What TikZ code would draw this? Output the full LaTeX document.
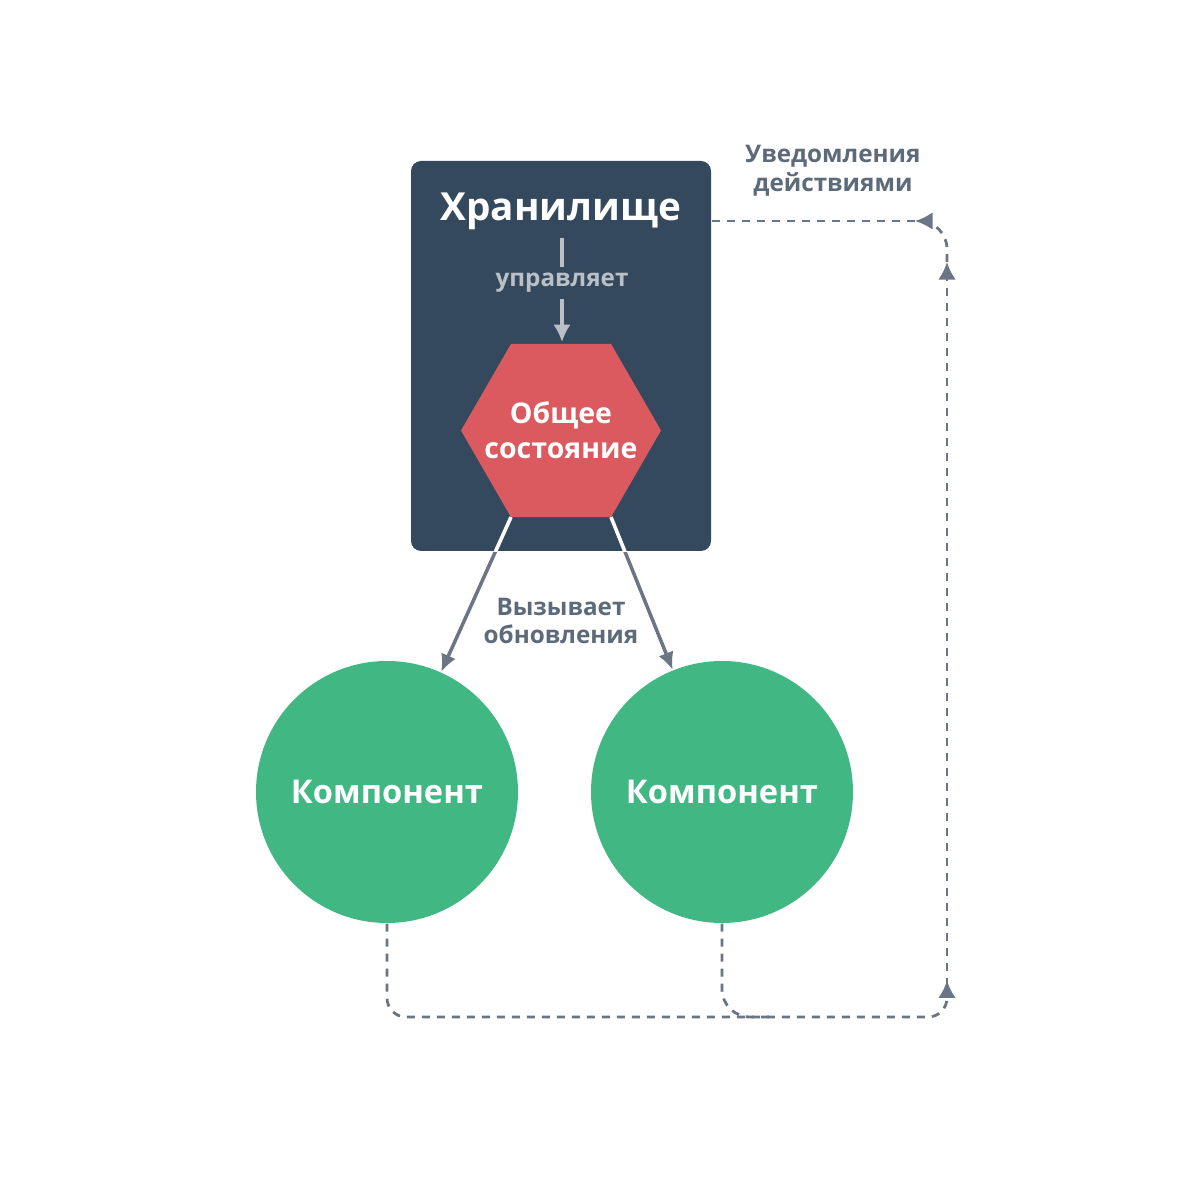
\documentclass[tikz,border=0pt]{standalone}
\usepackage{fontspec}
\setmainfont{Open Sans}
\usetikzlibrary{arrows.meta}
\definecolor{vuedark}{HTML}{35495E}
\definecolor{vuered}{HTML}{DA5A60}
\definecolor{vuegreen}{HTML}{41B883}
\definecolor{linegray}{HTML}{6A7585}
\definecolor{labelgray}{HTML}{5D6A7A}
\definecolor{softgray}{HTML}{BAC0C6}
\begin{document}
\begin{tikzpicture}
		\tikzset{storebox/.style = {draw=none,fill=vuedark,rounded corners=0.1cm,minimum width=3cm,minimum height=3.9cm}}
		\tikzset{statetext/.style = {text=white,align=center,font=\bfseries\fontsize{8.1}{10}\selectfont}}
		\tikzset{comp/.style = {shape=circle,fill=vuegreen,minimum size=2.62cm,inner sep=0,text=white,font=\bfseries\fontsize{9.3}{11}\selectfont}}
		\tikzset{label/.style = {text=labelgray,align=center,font=\bfseries\fontsize{6.9}{8.2}\selectfont}}
		\tikzset{edge/.style = {-{Latex[length=5pt,width=4.5pt]},draw=linegray,line width=1pt}}
		\tikzset{notify/.style = {draw=linegray,line width=0.8pt,dash pattern=on 0.08cm off 0.07cm,rounded corners=0.28cm}}
		\tikzset{notifyarrow/.style = {notify,-{Latex[length=5pt,width=5pt]}}}
		\useasboundingbox (0,0) rectangle (12,12);
		\node[storebox] (store) at (5.61,8.44) {};
		\node[text=white,font=\bfseries\fontsize{11}{13}\selectfont] (title) at (5.61,9.89) {Хранилище};
		% shared state hexagon
		\coordinate (hexL) at (4.61,7.695);
		\coordinate (hexTL) at (5.11,8.561);
		\coordinate (hexTR) at (6.11,8.561);
		\coordinate (hexR) at (6.61,7.695);
		\coordinate (hexBR) at (6.11,6.829);
		\coordinate (hexBL) at (5.11,6.829);
		\coordinate (hexTop) at (5.62,8.561);
		\fill[vuered] (hexL) -- (hexTL) -- (hexTR) -- (hexR) -- (hexBR) -- (hexBL) -- cycle;
		\node[statetext] (state) at (5.61,7.70) {Общее\\состояние};
		\node[text=softgray,inner sep=1.5pt,font=\bfseries\fontsize{6.9}{8.2}\selectfont] (manages) at (5.62,9.17) {управляет};
		\coordinate (mtop) at (5.62,9.62);
		\draw[softgray,line width=1pt] (mtop) -- (manages.north);
		\draw[-{Latex[length=5pt,width=5pt]},softgray,line width=1pt,shorten >=0.5pt] (manages.south) -- (hexTop);
		\node[comp] (compA) at (3.87,4.08) {Компонент};
		\node[comp] (compB) at (7.22,4.08) {Компонент};
		\node[label] (updates) at (5.61,5.79) {Вызывает\\обновления};
		\node[label] (notice) at (8.33,10.29) {Уведомления\\действиями};
		% render triggers
		\draw[edge] (hexBL) -- (compA);
		\draw[edge] (hexBR) -- (compB);
		\begin{scope}
			\clip (store.south west) rectangle (store.north east);
			\draw[white,line width=1pt] (hexBL) -- (compA);
			\draw[white,line width=1pt] (hexBR) -- (compB);
		\end{scope}
		% dispatch loop
		\coordinate (bend) at (9.47,1.83);
		\coordinate (join) at (7.7,1.83);
		\coordinate (low) at (9.47,2.02);
		\coordinate (high) at (9.47,9.38);
		\coordinate (back) at (9.15,9.79);
		\draw[notify,rounded corners=0.19cm] (compA.south) |- (bend) -- (low);
		\draw[notify] (compB.south) |- (join);
		\draw[notify,{Latex[reversed,length=5pt,width=5pt]}-{Latex[length=5pt,width=5pt]}] (low) -- (high);
		\draw[notifyarrow] (high) |- (back);
		\draw[notify] (back) -- (store.east |- back);
	\end{tikzpicture}
\end{document}
